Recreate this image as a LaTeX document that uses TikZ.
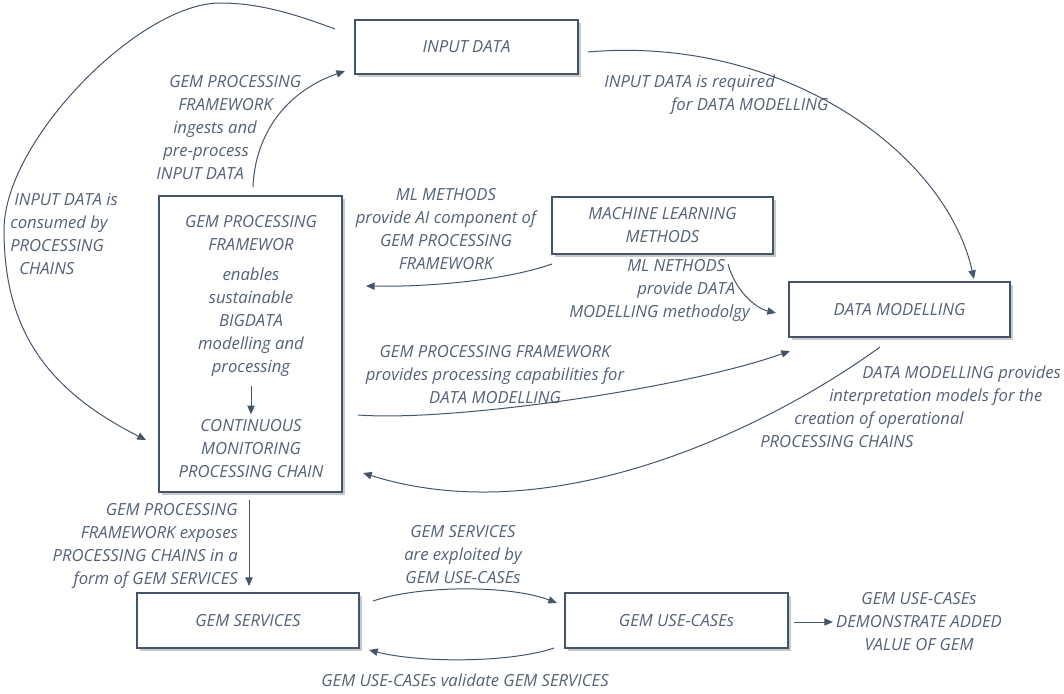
\documentclass[tikz,border=0pt]{standalone}
\usepackage{fontspec}
\setmainfont{Open Sans}
\usetikzlibrary{arrows.meta,shadows,calc}
\definecolor{slate}{HTML}{44546A}
\newcommand{\hs}[1]{\hspace*{#1pt}}
\begin{document}
\begin{tikzpicture}[x=0.75pt,y=-0.75pt,
  font=\itshape\fontsize{12.5}{17.25}\selectfont, text=slate!92,
  box/.style={draw=slate, line width=1.5pt, fill=white, inner sep=0pt, align=center,
    drop shadow={shadow xshift=2pt, shadow yshift=-2pt, opacity=0.3, fill=black!70}},
  lbl/.style={inner sep=0pt, align=center},
  lbll/.style={inner sep=0pt, align=left, anchor=west},
  arr/.style={draw=slate, line width=0.75pt, -{Triangle[length=6.5pt,width=5.5pt]}}]
\useasboundingbox (0,0) rectangle (1064,693);

% boxes
\node[box, minimum width=167.25pt, minimum height=40.5pt] (in) at (466.5,47) {INPUT DATA};
\node[box, minimum width=137.25pt, minimum height=222pt] (gpf) at (250.5,344) {};
\node[box, minimum width=165.75pt, minimum height=42.75pt] (ml) at (662.5,225.5) {MACHINE LEARNING\\METHODS};
\node[box, minimum width=165.75pt, minimum height=41.25pt] (dm) at (899.5,309.5) {DATA MODELLING};
\node[box, minimum width=166.5pt, minimum height=41.25pt] (gs) at (248,620.5) {GEM SERVICES};
\node[box, minimum width=167.25pt, minimum height=41.25pt] (uc) at (676.5,620.5) {GEM USE-CASEs};

% text inside the framework box
\node[lbl] (title) at (251,233.5) {GEM PROCESSING\\FRAMEWOR};
\node[lbl] (body) at (251,322.5) {enables\\sustainable\\BIGDATA\\modelling and\\processing};
\node[lbl] (cmpc) at (251,449) {CONTINUOUS\\MONITORING\\PROCESSING CHAIN};

% labels
\node[lbll] (ingest) at (156,128) {\hs{9.75}GEM PROCESSING\\\hs{16.5}FRAMEWORK\\\hs{12.75}ingests and\\\hs{5.25}pre-process\\INPUT DATA};
\node[lbll] (consumed) at (10,233.5) {\hs{3}INPUT DATA is\\consumed by\\PROCESSING\\\hs{6.75}CHAINS};
\node[lbll] (required) at (604,94.5) {INPUT DATA is required\\\hs{50.25}for DATA MODELLING};
\node[lbl] (mlai) at (446,229.5) {ML METHODS\\provide AI component of\\GEM PROCESSING\\FRAMEWORK};
\node[lbll] (mlnet) at (569,290) {\hs{43.5}ML NETHODS\\\hs{51}provide DATA\\MODELLING methodolgy};
\node[lbl] (cap) at (495,375) {GEM PROCESSING FRAMEWORK\\provides processing capabilities for\\DATA MODELLING};
\node[lbll] (interp) at (760,406.5) {\hs{76.5}DATA MODELLING provides\\\hs{51.75}interpretation models for the\\\hs{25.5}creation of operational\\PROCESSING CHAINS};
\node[lbl, anchor=east, align=right] (expose) at (238,546) {GEM PROCESSING\\FRAMEWORK exposes\\PROCESSING CHAINS in a\\form of GEM SERVICES};
\node[lbl] (exploit) at (463,555) {GEM SERVICES\\are exploited by\\GEM USE-CASEs};
\node[lbl] (valid) at (465,680) {GEM USE-CASEs validate GEM SERVICES};
\node[lbl] (dem) at (919,622) {GEM USE-CASEs\\DEMONSTRATE ADDED\\VALUE OF GEM};

% connectors
\draw[arr] ([shift={(-19,10)}]in.north west) .. controls (300,16) and (262,3) .. (220,3)
  .. controls (140,3) and (4,140) .. (4,230)
  .. controls (4,330) and (47,390) .. ([shift={(-12,96)}]gpf.west);
\draw[arr] ([shift={(2.5,-8)}]gpf.north) .. controls (255,135) and (285,92) .. ([shift={(-9,-4)}]in.south west);
\draw[arr] ([shift={(9,5)}]in.east) .. controls (780,35) and (945,150) .. ([shift={(-37,-2)}]dm.north east);
\draw[arr] ([shift={(1,9)}]ml.south west) .. controls (500,282) and (420,287) .. ([shift={(23,-58)}]gpf.east);
\draw[arr] ([shift={(-46,9)}]ml.south east) .. controls (735,290) and (755,308) .. ([shift={(-12,3.5)}]dm.west);
\draw[arr] ([shift={(15,71)}]gpf.east) .. controls (450,422) and (683,389) .. ([shift={(2,13)}]dm.south west);
\draw[arr] ([shift={(-19.5,9)}]dm.south) .. controls (780,420) and (560,535) .. ([shift={(20,129)}]gpf.east);
\draw[arr] ([shift={(-1.5,7)}]gpf.south) -- ($(gpf.south |- gs.north)+(-1.5,-6)$);
\draw[arr] ([shift={(13,9)}]gs.north east) .. controls (420,585) and (510,585) .. ([shift={(-7,11)}]uc.north west);
\draw[arr] ([shift={(-10,-1)}]uc.south west) .. controls (510,663) and (420,663) .. ([shift={(9,1)}]gs.south east);
\draw[arr] ($(uc.east)+(5,1.5)$) -- ($(dem.west)+(-3,0)$);
\draw[arr] ([yshift=-7pt]body.south) -- ([yshift=4pt]cmpc.north);
\end{tikzpicture}
\end{document}
